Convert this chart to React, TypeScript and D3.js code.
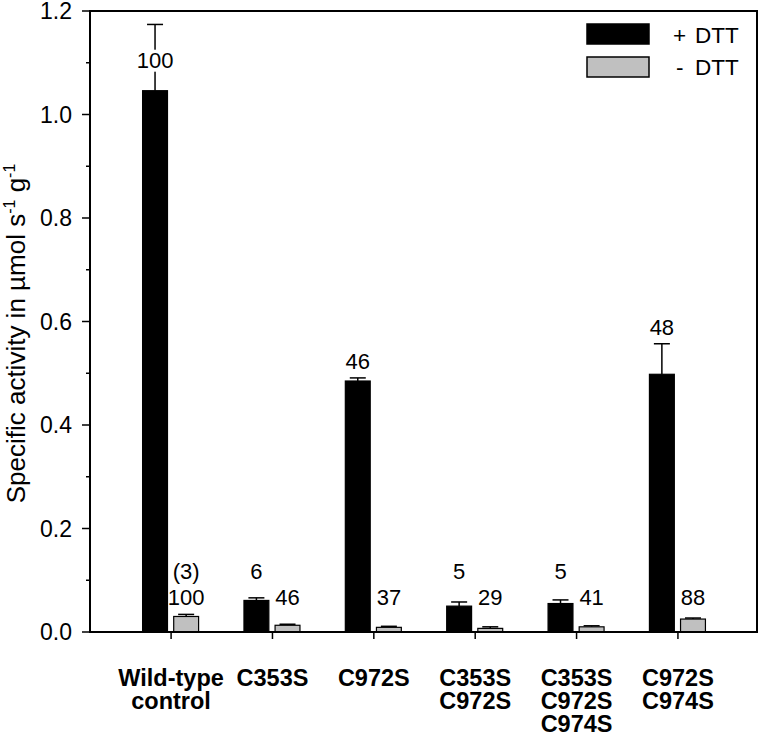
import React, { useLayoutEffect } from "react";
import * as d3 from "d3";

const categories: string[][] = [
  ["Wild-type", "control"],
  ["C353S"],
  ["C972S"],
  ["C353S", "C972S"],
  ["C353S", "C972S", "C974S"],
  ["C972S", "C974S"],
];
const plusDTT = [1.046, 0.061, 0.485, 0.05, 0.055, 0.498];
const plusErr = [0.128, 0.005, 0.006, 0.008, 0.007, 0.059];
const minusDTT = [0.03, 0.013, 0.009, 0.007, 0.01, 0.025];
const minusErr = [0.004, 0.002, 0.002, 0.003, 0.002, 0.002];
const plusLabels = ["100", "6", "46", "5", "5", "48"];
const minusLabels = ["100", "46", "37", "29", "41", "88"];
const minusExtraLabels = ["(3)", "", "", "", "", ""];
const yTicks = [0, 0.2, 0.4, 0.6, 0.8, 1.0, 1.2];
const yMinorTicks = [0.1, 0.3, 0.5, 0.7, 0.9, 1.1];
const legendItems = [
  { sign: "+", name: "DTT", color: "#000000" },
  { sign: "-", name: "DTT", color: "#c0c0c0" },
];

const FONT = "'Liberation Sans', Arial, Helvetica, sans-serif";

export default function App() {
  useLayoutEffect(() => {
    document.body.style.margin = "0";
  }, []);

  const W = 760;
  const H = 738;
  const left = 90;
  const right = 757;
  const top = 11;
  const bottom = 632;

  const x = d3.scaleLinear().domain([-0.8, 5.78]).range([left, right]);
  const y = d3.scaleLinear().domain([0, 1.2]).range([bottom, top]);
  const inner = d3
    .scaleBand<string>()
    .domain(["plus", "minus"])
    .range([-28.5, 27.5])
    .paddingInner(0.2);
  const bw = inner.bandwidth();

  const lowBlackBase = 579;
  const lowGrayBase = 605;

  const series = [
    { key: "plus", vals: plusDTT, errs: plusErr, fill: "#000000", labels: plusLabels, base: lowBlackBase },
    { key: "minus", vals: minusDTT, errs: minusErr, fill: "#c0c0c0", labels: minusLabels, base: lowGrayBase },
  ];

  return (
    <svg width={W} height={H} style={{ display: "block", background: "#fff" }} fontFamily={FONT}>
      {/* bars */}
      {series.map((s) =>
        s.vals.map((v, i) => {
          const bx = x(i) + (inner(s.key) as number);
          const cx = bx + bw / 2;
          const yTop = y(v);
          const yErr = y(v + s.errs[i]);
          let labelY = Math.min(s.base, yErr - 9);
          let withBg = false;
          if (labelY - 17 < top) {
            labelY = yTop - 23;
            withBg = true;
          }
          return (
            <g key={s.key + i}>
              <line x1={cx} x2={cx} y1={yTop} y2={yErr} stroke="#000" strokeWidth={1.5} />
              <line x1={cx - 8} x2={cx + 8} y1={yErr} y2={yErr} stroke="#000" strokeWidth={1.5} />
              <rect x={bx} y={yTop} width={bw} height={bottom - yTop} fill={s.fill} stroke="#000" strokeWidth={1.2} />
              {withBg && (
                <rect x={cx - 21} y={labelY - 18} width={42} height={22} fill="#fff" />
              )}
              <text x={cx} y={labelY} textAnchor="middle" fontSize={22} fill="#000">
                {s.labels[i]}
              </text>
              {s.key === "minus" && minusExtraLabels[i] && (
                <text x={cx} y={lowBlackBase} textAnchor="middle" fontSize={22} fill="#000">
                  {minusExtraLabels[i]}
                </text>
              )}
            </g>
          );
        })
      )}

      {/* frame */}
      <rect x={left} y={top} width={right - left} height={bottom - top} fill="none" stroke="#000" strokeWidth={2} />

      {/* y ticks */}
      {yTicks.map((t) => (
        <g key={"yt" + t}>
          <line x1={left - 8} x2={left} y1={y(t)} y2={y(t)} stroke="#000" strokeWidth={1.5} />
          <text x={left - 18} y={y(t) + 8} textAnchor="end" fontSize={23} fill="#000">
            {t.toFixed(1)}
          </text>
        </g>
      ))}
      {yMinorTicks.map((t) => (
        <line key={"ym" + t} x1={left - 4} x2={left} y1={y(t)} y2={y(t)} stroke="#000" strokeWidth={1.5} />
      ))}

      {/* x ticks and labels */}
      {categories.map((lines, i) => (
        <g key={"xc" + i}>
          <line x1={x(i)} x2={x(i)} y1={bottom} y2={bottom + 7} stroke="#000" strokeWidth={1.5} />
          <text textAnchor="middle" fontSize={23.5} fontWeight="bold" fill="#000">
            {lines.map((ln, j) => (
              <tspan key={j} x={x(i)} y={686 + j * 23}>
                {ln}
              </tspan>
            ))}
          </text>
        </g>
      ))}

      {/* y label */}
      <text transform={`translate(25, ${(top + bottom) / 2 + 12}) rotate(-90)`} textAnchor="middle" fontSize={26} fill="#000">
        Specific activity in µmol s
        <tspan dy={-10} fontSize={16}>-1</tspan>
        <tspan dy={10}> g</tspan>
        <tspan dy={-10} fontSize={16}>-1</tspan>
      </text>

      {/* legend */}
      {legendItems.map((it, k) => (
        <g key={"lg" + k}>
          <rect x={587} y={24 + k * 33} width={62} height={20} fill={it.color} stroke="#000" strokeWidth={1.5} />
          <text x={k === 0 ? 673 : 676} y={43 + k * 32} fontSize={22.5} fill="#000">
            {it.sign}
          </text>
          <text x={695} y={43 + k * 32} fontSize={22.5} fill="#000">
            {it.name}
          </text>
        </g>
      ))}
    </svg>
  );
}
